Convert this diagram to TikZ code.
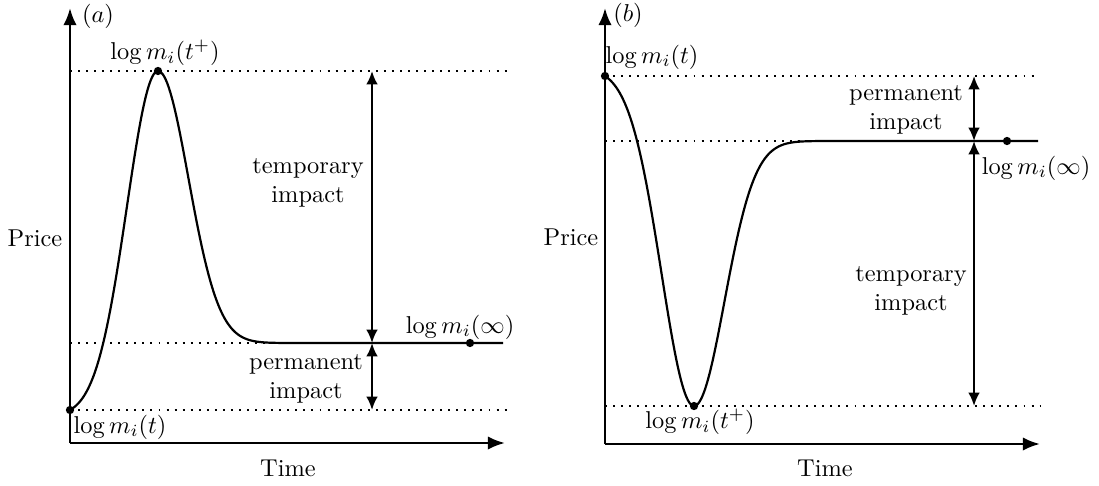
\documentclass[tikz,border=0pt]{standalone}
\usepackage{amsmath}
\usepackage{amssymb}
\usepackage{tikz}
\usetikzlibrary{arrows.meta}
\tikzset{
  axis/.style={line width=1.1pt, -{Latex[length=7pt,width=5.5pt]}},
  guide/.style={line width=0.8pt, dash pattern=on 0.8pt off 2.5pt},
  gap/.style={line width=0.9pt, {Latex[length=5.5pt,width=4.8pt]}-{Latex[length=5.5pt,width=4.8pt]}},
  pricepath/.style={line width=0.9pt},
  lbl/.style={inner sep=0pt, align=center}
}

\begin{document}
\begin{tikzpicture}[x=0.41pt, y=-0.41pt]
\useasboundingbox (0,0) rectangle (1099,485);

% panel (a)
\coordinate (oA) at (70,443);
\coordinate (yA) at (70,8);
\coordinate (xA) at (505,443);
\coordinate (startA) at (70,410);
\coordinate (peakA) at (158,71);
\coordinate (endA) at (470,343);
\coordinate (flatA) at (503,343);
\coordinate (t1A) at (372,71);
\coordinate (t2A) at (372,343);
\coordinate (t3A) at (372,410);

\draw[guide] (70,71) -- (510,71);
\draw[guide] (70,343) -- (flatA);
\draw[guide] (startA) -- (507,410);
\draw[axis] (oA) -- (yA);
\draw[axis] (oA) -- (xA);
\draw[pricepath] plot[domain=70:158, samples=60, smooth] (\x,{410-345.3*(exp(-(((\x-158)/44)^2))-0.0183)})
  -- plot[domain=158:300, samples=60, smooth] (\x,{343-272*exp(-(((\x-158)/43)^2))}) -- (flatA);
\draw[gap] (t1A) -- (t2A);
\draw[gap] (t2A) -- (t3A);
\fill (startA) circle (1.7pt);
\fill (peakA) circle (1.7pt);
\fill (endA) circle (1.7pt);

\node[lbl] (tagA) at (98,16) {$(a)$};
\node[lbl] (priceA) at (35,238) {Price};
\node[lbl] (timeA) at (288,468) {Time};
\node[lbl] (peaklblA) at (165,53) {$\log m_i(t^+)$};
\node[lbl] (startlblA) at (120,427) {$\log m_i(t)$};
\node[lbl] (endlblA) at (460,327) {$\log m_i(\infty)$};
\node[lbl] (tempA) at (308,183) {temporary\\impact};
\node[lbl] (permA) at (306,379) {permanent\\impact};

% panel (b)
\coordinate (oB) at (605,444);
\coordinate (yB) at (605,8);
\coordinate (xB) at (1040,444);
\coordinate (startB) at (605,76);
\coordinate (dipB) at (694,406);
\coordinate (endB) at (1007,141);
\coordinate (flatB) at (1038,141);
\coordinate (t1B) at (974,76);
\coordinate (t2B) at (974,141);
\coordinate (t3B) at (974,406);

\draw[guide] (startB) -- (1035,76);
\draw[guide] (605,141) -- (flatB);
\draw[guide] (605,406) -- (1040,406);
\draw[axis] (oB) -- (yB);
\draw[axis] (oB) -- (xB);
\draw[pricepath] plot[domain=605:694, samples=60, smooth] (\x,{76+338*(exp(-(((\x-694)/46)^2))-0.0237)})
  -- plot[domain=694:850, samples=60, smooth] (\x,{141+265*exp(-(((\x-694)/43)^2))}) -- (flatB);
\draw[gap] (t1B) -- (t2B);
\draw[gap] (t2B) -- (t3B);
\fill (startB) circle (1.7pt);
\fill (dipB) circle (1.7pt);
\fill (endB) circle (1.7pt);

\node[lbl] (tagB) at (628,15) {$(b)$};
\node[lbl] (priceB) at (571,237) {Price};
\node[lbl] (timeB) at (825,468) {Time};
\node[lbl] (startlblB) at (652,57) {$\log m_i(t)$};
\node[lbl] (diplblB) at (700,422) {$\log m_i(t^+)$};
\node[lbl] (endlblB) at (1036,168) {$\log m_i(\infty)$};
\node[lbl] (permB) at (906,110) {permanent\\impact};
\node[lbl] (tempB) at (911,291) {temporary\\impact};
\end{tikzpicture}
\end{document}
